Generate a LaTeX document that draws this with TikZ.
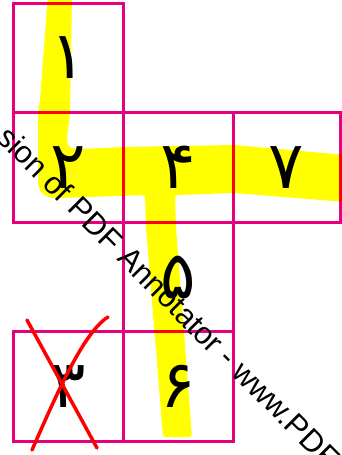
\documentclass[tikz,border=0pt]{standalone}
\usepackage{fontspec}
\setmainfont{Liberation Sans}
\newfontfamily\arabicfont[Script=Arabic]{DejaVu Sans}
\TeXXeTstate=1
\usetikzlibrary{positioning}
\definecolor{gridmagenta}{RGB}{230,0,126}
\definecolor{markyellow}{RGB}{255,255,0}
\definecolor{crossred}{RGB}{255,0,0}

% outline of the highlighter stroke
\newcommand{\markpath}{(48,-5) -- (40,100) -- (38,113) -- (38,178)
    .. controls (38,192) and (45,198) .. (58,198) -- (145,195) -- (146,228)
    -- (163,437) -- (192,437) -- (176,228) -- (175,195) -- (234,193)
    -- (346,202) -- (346,155) -- (234,145) -- (124,147) -- (80,149)
    .. controls (70,149) and (67,145) .. (67,138) -- (70,113) -- (72,-5) -- cycle}

\begin{document}
\begin{tikzpicture}[
    x=1pt, y=-1pt,
    node distance=0pt,
    cellbox/.style={rectangle, draw=gridmagenta, line width=3pt, minimum width=110pt, minimum height=109.5pt, inner sep=0pt, outer sep=0pt, font=\arabicfont\fontsize{66}{66}\selectfont},
    marker/.style={fill=markyellow},
    overline/.style={draw=crossred, line width=3pt},
    cross/.style={draw=crossred, line width=3.5pt, line cap=round},
    watermark/.style={font=\fontsize{31}{31}\selectfont, rotate=-45, inner sep=0pt}
]
\useasboundingbox (0,0) rectangle (342,455);
\clip (0,0) rectangle (342,455);

% Highlighted path
\path[marker, rounded corners=3pt] \markpath;

% Grid of numbered cells
\node[cellbox] (c1) at (68,58) {\beginR ۱\endR};
\node[cellbox, below=of c1] (c2) {\beginR ۲\endR};
\node[cellbox, right=of c2] (c4) {\beginR ۴\endR};
\node[cellbox, right=of c4, minimum width=107pt] (c7) {\beginR ۷\endR};
\node[cellbox, below=of c4] (c5) {\beginR ۵\endR};
\node[cellbox, below=of c5] (c6) {\beginR ۶\endR};
\node[cellbox, left=of c6] (c3) {\beginR ۳\endR};

% Grid lines turn red under the highlighter
\begin{scope}
  \clip[rounded corners=3pt] \markpath;
  \foreach \c in {c1,c2,c4,c7,c5,c6}
    \draw[overline] (\c.north west) rectangle (\c.south east);
\end{scope}

% Crossed out cell
\draw[cross] (27,320) -- (97,448);
\draw[cross] (108,317) .. controls (82,333) and (52,405) .. (32,450);

% Watermark
\node[watermark] (wm) at (169,297) {sion of PDF Annotator - www.PDF};

\end{tikzpicture}
\end{document}
